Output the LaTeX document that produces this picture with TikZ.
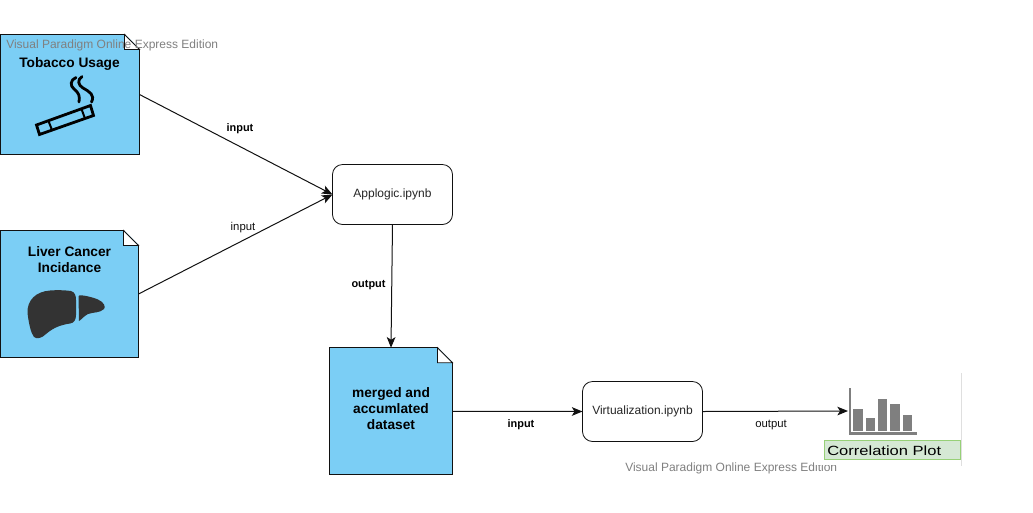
\documentclass[tikz,border=0pt]{standalone}
\usepackage{fontspec}
\usepackage{graphicx}
\setmainfont{Liberation Sans}
\usetikzlibrary{arrows.meta,calc}
\definecolor{docblue}{HTML}{7BCEF5}
\definecolor{inkline}{HTML}{111111}
\definecolor{wmgray}{HTML}{808080}
\definecolor{bargray}{HTML}{7F7F7F}
\definecolor{plotgreen}{HTML}{D5E8D4}
\definecolor{plotedge}{HTML}{97D077}
\definecolor{liverdark}{HTML}{333333}
\tikzset{
  x=0.75pt,y=-0.75pt,
  docbox/.style={draw=inkline,fill=docblue,line width=0.85pt,inner sep=0pt,outer sep=0pt,align=center},
  foldpart/.style={draw=inkline,fill=white,line width=0.6pt,line join=miter},
  procbox/.style={draw=inkline,fill=white,rounded corners=7.5pt,line width=0.6pt,minimum width=90pt,minimum height=45pt,inner sep=0pt,outer sep=0pt,font=\fontsize{9}{10}\selectfont,text=black!85},
  flow/.style={draw=inkline,line width=0.75pt,-{Stealth[length=8pt,width=6.5pt,inset=2pt]}},
  lab/.style={font=\fontsize{8.5}{10}\selectfont,text=inkline,inner sep=0pt},
  labb/.style={font=\fontsize{8.2}{10}\selectfont\bfseries,text=black,inner sep=0pt},
  doctitle/.style={font=\fontsize{10.3}{12}\selectfont\bfseries,text=black,inner sep=0pt,align=center},
  wmark/.style={font=\fontsize{9}{11}\selectfont,text=wmgray,inner sep=0pt,anchor=west},
  plotbar/.style={fill=bargray,draw=none}
}
\newcommand{\docfold}[1]{%
  \path[fill=white,draw=none] ($(#1.north east)+(-15,-1)$) -- ($(#1.north east)+(1,-1)$) -- ($(#1.north east)+(1,15)$) -- cycle;
  \draw[foldpart] ($(#1.north east)+(-15,0)$) -- ($(#1.north east)+(0,15)$) -- ($(#1.north east)+(-15,15)$) -- cycle;
}
\begin{document}
\begin{tikzpicture}
\useasboundingbox (0,0) rectangle (1033,512);
\fill[white] (0,0) rectangle (1033,512);

% document shapes
\node[docbox,minimum width=104.25pt,minimum height=90pt] (tob) at (70,94.5) {};
\docfold{tob}
\node[docbox,minimum width=103.5pt,minimum height=95.25pt] (liv) at (69.5,294) {};
\docfold{liv}
\node[docbox,minimum width=92.25pt,minimum height=95.25pt] (mer) at (391,411.25) {};
\docfold{mer}

\node[doctitle] (tobt) at (69.5,63.5) {Tobacco Usage};
\node[doctitle] (livt) at (69.5,259.5) {Liver Cancer\\Incidance};
\node[doctitle] (mert) at (391,409) {merged and\\accumlated\\dataset};

% cigarette icon
\begin{scope}[draw=black,line width=2.1pt,line join=miter]
  \draw (36.5,125) -- (90.5,105.5) -- (93.5,115.5) -- (39.5,134.5) -- cycle;
  \draw[line width=1.5pt] (48.5,121) -- (52,130);
  \draw[line width=1.5pt] (81.5,109) -- (85,118.5);
  \draw[line cap=round] (76,77.5) .. controls (70,80) and (70,86) .. (74,89) .. controls (79,93) and (80,96) .. (79,102);
  \draw[line cap=round] (82,76.5) .. controls (77,80) and (78,85) .. (83,88) .. controls (90,92) and (95,95) .. (91.5,102);
\end{scope}

% liver icon
\fill[liverdark] (27.5,313) .. controls (27,300) and (36,291.5) .. (50,290.5)
  .. controls (56,290) and (64,290) .. (71,291) .. controls (75,292) and (76,296) .. (76,300)
  -- (76,315) .. controls (76,320) and (74,323) .. (70,323.5)
  .. controls (60,325) and (53,328) .. (46,334) .. controls (42,338) and (37,339.5) .. (34,337)
  .. controls (31,333) and (29,325) .. (27.5,313) -- cycle;
\fill[liverdark] (78.5,296) .. controls (80,294) and (92,297) .. (98,299.5)
  .. controls (104,302) and (106,307) .. (104,309) .. controls (100,313) and (94,312) .. (88,314)
  .. controls (84,316) and (81,320) .. (79,321) -- cycle;

% process boxes
\node[procbox] (app) at (392.5,194.5) {\raisebox{-1pt}{Applogic.ipynb}};
\node[procbox] (vir) at (642.5,411.5) {\raisebox{-1pt}{Virtualization.ipynb}};

% watermark behind the chart
\node[wmark] (w2) at (625,468) {Visual Paradigm Online Express Edition};
\fill[white] (814,461) rectangle (961,465);

% chart image
\coordinate (plot) at (848,411);
\draw[draw=gray!25,line width=0.75pt] (961.5,373) -- (961.5,466);
\draw[draw=bargray,line width=2pt] (850,388) -- (850,433.5) -- (917,433.5);
\fill[plotbar] (853.3,409) rectangle (862.7,431);
\fill[plotbar] (865.7,418) rectangle (875,431);
\fill[plotbar] (878,398.5) rectangle (887.3,431);
\fill[plotbar] (890.3,403.5) rectangle (900,431);
\fill[plotbar] (903,415) rectangle (912.3,431);
\node[draw=plotedge,fill=plotgreen,line width=0.9pt,minimum width=102.5pt,minimum height=14.5pt,inner sep=0pt] (cplot) at (892.5,450) {};
\node[font=\fontsize{10}{12}\selectfont,text=black,inner sep=0pt,anchor=west] (cplott) at (827,450.5) {\scalebox{1.24}[1]{Correlation Plot}};

% connectors
\draw[flow] (tob.east) -- (app.west);
\draw[flow] (liv.east) -- (app.west);
\draw[flow] (app.south) -- (mer.north);
\draw[flow] (mer.east) -- (vir.west);
\draw[flow] (vir.east) -- (plot);

% labels
\node[labb] (l1) at (240,129) {input};
\node[lab] (l2) at (243,228) {input};
\node[labb] (l3) at (368.5,285) {output};
\node[labb] (l4) at (521,425) {input};
\node[lab] (l5) at (771,425) {output};

% watermark over the first document
\node[wmark] (w1) at (6,45.5) {Visual Paradigm Online Express Edition};
\end{tikzpicture}
\end{document}
